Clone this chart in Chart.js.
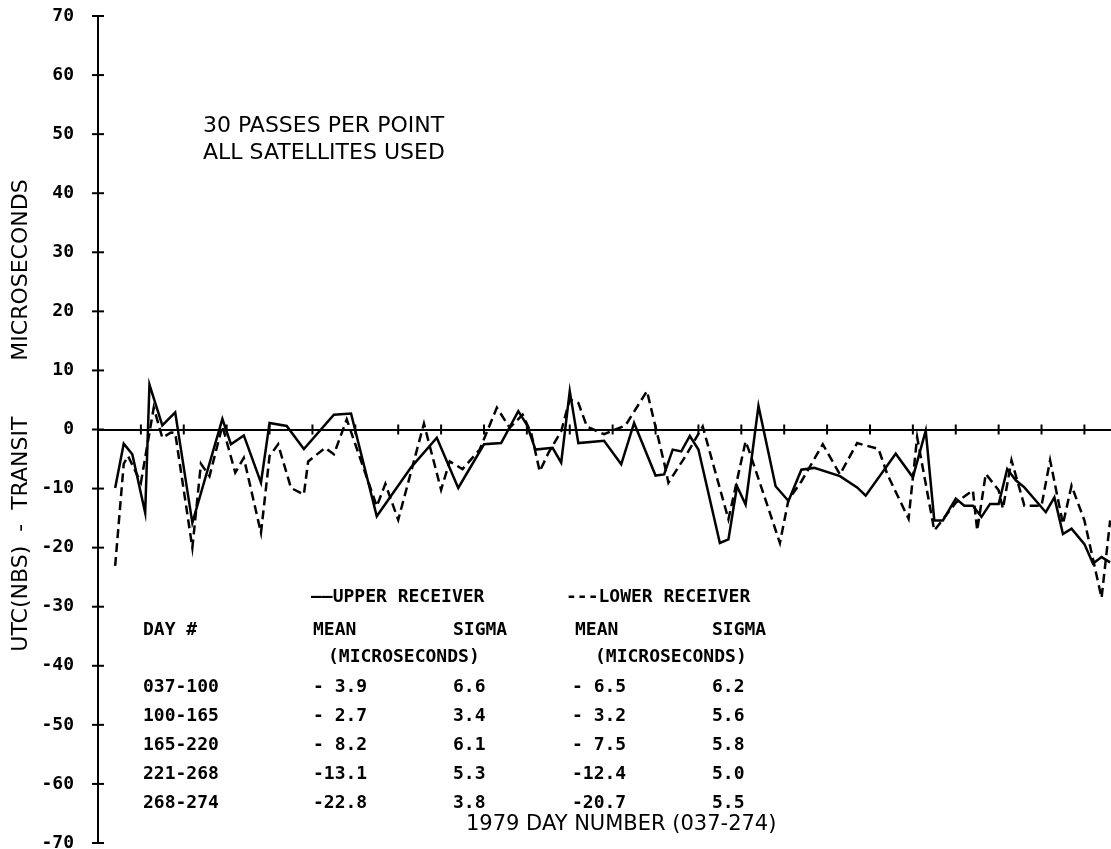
<!DOCTYPE html>
<html>
<head>
<meta charset="utf-8">
<script src="https://cdn.jsdelivr.net/npm/chart.js@4.4.1/dist/chart.umd.min.js"></script>
<style>
  html, body { margin: 0; padding: 0; background: #fff; }
  canvas { display: block; }
</style>
</head>
<body>
<canvas id="c" width="1111" height="849"></canvas>
<script>
// Day numbers (1979) and UTC(NBS) - TRANSIT offsets in microseconds
const upperDays = [41,43,45,48,49,52,55,59,66,68,71,75,77,81,85,92,96,102,110,116,121,127,131,135,137,139,143,145,147,149,155,159,162,167,169,171,173,175,177,182,184,186,188,191,195,198,201,204,210,214,216,223,227,230,232,234,237,239,241,243,245,247,249,251,253,258,260,262,264,267,269,271,273];
const upperValues = [-9.9,-2.4,-4.2,-14.1,7.6,0.7,2.9,-15.8,1.8,-2.5,-1.0,-9.0,1.1,0.6,-3.3,2.5,2.7,-14.7,-6.4,-1.4,-9.9,-2.5,-2.3,3.1,0.8,-3.4,-3.1,-5.6,6.5,-2.3,-1.9,-5.9,1.1,-7.8,-7.6,-3.4,-3.7,-1.1,-3.4,-19.2,-18.6,-9.6,-12.7,4.0,-9.6,-12.1,-6.8,-6.5,-7.9,-9.8,-11.2,-4.1,-8.1,-0.2,-15.4,-15.4,-11.7,-12.9,-12.9,-14.8,-12.6,-12.6,-6.7,-8.6,-9.8,-14.0,-11.5,-17.7,-16.8,-19.4,-22.7,-21.6,-22.5];

const lowerDays = [41,43,44,47,50,52,54,55,59,61,63,66,69,71,75,77,79,82,85,86,90,92,95,97,102,104,107,113,117,119,122,126,130,133,136,138,140,142,145,147,149,151,155,160,165,169,170,174,178,184,188,189,196,198,201,206,210,214,219,221,226,228,232,237,241,242,244,247,248,250,253,257,259,262,264,267,271,273];
const lowerValues = [-23.1,-5.8,-4.5,-9.0,3.7,-1.4,-0.5,-0.6,-20.0,-5.8,-7.9,0.6,-7.3,-4.8,-17.5,-4.5,-2.5,-9.9,-11.0,-5.4,-3.1,-4.2,1.7,-2.5,-13.0,-9.2,-15.3,1.0,-10.2,-5.4,-6.7,-3.4,3.7,0.3,2.5,-0.6,-7.1,-4.0,-0.3,5.1,4.5,0.5,-0.8,0.7,6.5,-5.6,-9.0,-4.5,0.5,-15.2,-2.0,-4.0,-19.2,-11.9,-8.8,-2.5,-7.6,-2.3,-3.3,-7.5,-15.1,-1.3,-17.1,-12.4,-10.3,-17.1,-7.5,-10.3,-13.4,-5.2,-12.9,-12.9,-5.2,-16.0,-9.5,-15.4,-28.5,-15.4];

// Axis ranges and tick layout
const dayStart = 37;
const dayEnd = 273.2;
const dayTickStep = 10;
const dayTickLast = 267;
const yMin = -70, yMax = 70, yStep = 10;

// Summary table
const tableRanges = ['037-100', '100-165', '165-220', '221-268', '268-274'];
const upperMean  = ['- 3.9', '- 2.7', '- 8.2', '-13.1', '-22.8'];
const upperSigma = ['6.6', '3.4', '6.1', '5.3', '3.8'];
const lowerMean  = ['- 6.5', '- 3.2', '- 7.5', '-12.4', '-20.7'];
const lowerSigma = ['6.2', '5.6', '5.8', '5.0', '5.5'];

const notes = ['30 PASSES PER POINT', 'ALL SATELLITES USED'];
const yTitle = '    UTC(NBS)  -  TRANSIT        MICROSECONDS';
const xTitle = '1979 DAY NUMBER (037-274)';

const toPoints = (xs, ys) => xs.map((d, i) => ({ x: d, y: ys[i] }));

const MONO = '"DejaVu Sans Mono", "Liberation Mono", monospace';
const SANS = '"DejaVu Sans", "Liberation Sans", sans-serif';

// "+" shaped tick marks on both axes
const crossTicks = {
  id: 'crossTicks',
  afterDraw(chart) {
    const { ctx, chartArea, scales: { x, y } } = chart;
    const y0 = y.getPixelForValue(0);
    ctx.save();
    ctx.strokeStyle = '#000';
    ctx.lineWidth = 2;
    y.ticks.forEach(t => {
      const py = y.getPixelForValue(t.value);
      ctx.beginPath();
      ctx.moveTo(chartArea.left - 6, py);
      ctx.lineTo(chartArea.left + 6, py);
      ctx.stroke();
    });
    x.ticks.forEach(t => {
      if (t.value === dayStart) return;
      const px = x.getPixelForValue(t.value);
      ctx.beginPath();
      ctx.moveTo(px, y0 - 5);
      ctx.lineTo(px, y0 + 5);
      ctx.stroke();
    });
    ctx.restore();
  }
};

// Notes, summary table and bottom axis caption
const textBlock = {
  id: 'textBlock',
  afterDraw(chart) {
    const { ctx } = chart;
    ctx.save();
    ctx.fillStyle = '#000';
    ctx.textBaseline = 'middle';
    ctx.textAlign = 'left';

    ctx.font = '22px ' + SANS;
    ctx.fillText(notes[0], 203, 126);
    ctx.fillText(notes[1], 203, 153);

    ctx.font = 'bold 18px ' + MONO;
    const rowY = [597, 630, 657, 687, 716, 745, 774, 803];
    ctx.fillText('\u2014\u2014UPPER RECEIVER', 311, rowY[0]);
    ctx.fillText('---LOWER RECEIVER', 566, rowY[0]);
    ctx.fillText('DAY #', 143, rowY[1]);
    ctx.fillText('MEAN', 313, rowY[1]);
    ctx.fillText('SIGMA', 453, rowY[1]);
    ctx.fillText('MEAN', 575, rowY[1]);
    ctx.fillText('SIGMA', 712, rowY[1]);
    ctx.fillText('(MICROSECONDS)', 328, rowY[2]);
    ctx.fillText('(MICROSECONDS)', 595, rowY[2]);
    tableRanges.forEach((r, i) => {
      const yy = rowY[3 + i];
      ctx.fillText(r, 143, yy);
      ctx.fillText(upperMean[i], 313, yy);
      ctx.fillText(upperSigma[i], 453, yy);
      ctx.fillText(lowerMean[i], 572, yy);
      ctx.fillText(lowerSigma[i], 712, yy);
    });

    ctx.font = '21px ' + SANS;
    ctx.fillText(xTitle, 466, 825);
    ctx.restore();
  }
};

new Chart(document.getElementById('c'), {
  type: 'line',
  data: {
    datasets: [
      {
        label: 'LOWER RECEIVER',
        data: toPoints(lowerDays, lowerValues),
        borderColor: '#000',
        borderWidth: 2.5,
        borderDash: [9, 5],
        pointRadius: 0,
        tension: 0,
        fill: false
      },
      {
        label: 'UPPER RECEIVER',
        data: toPoints(upperDays, upperValues),
        borderColor: '#000',
        borderWidth: 2.5,
        pointRadius: 0,
        tension: 0,
        fill: false
      }
    ]
  },
  options: {
    responsive: false,
    animation: false,
    devicePixelRatio: 1,
    layout: { padding: { top: 16, bottom: 6, left: 0, right: 0 } },
    plugins: { legend: { display: false }, tooltip: { enabled: false } },
    scales: {
      x: {
        type: 'linear',
        position: { y: 0 },
        min: dayStart,
        max: dayEnd,
        afterBuildTicks(scale) {
          const t = [];
          for (let d = dayStart; d <= dayTickLast; d += dayTickStep) t.push({ value: d });
          scale.ticks = t;
        },
        ticks: { display: false },
        grid: { drawOnChartArea: false, drawTicks: false },
        border: { display: true, color: '#000', width: 2 }
      },
      y: {
        type: 'linear',
        position: 'left',
        min: yMin,
        max: yMax,
        afterFit(scale) {
          scale.width = 98;
          scale.paddingTop = 0;
          scale.paddingBottom = 0;
        },
        ticks: {
          stepSize: yStep,
          padding: 24,
          color: '#000',
          font: { family: MONO, size: 18, weight: 'bold' }
        },
        grid: { drawOnChartArea: false, drawTicks: false },
        border: { display: true, color: '#000', width: 2 },
        title: {
          display: true,
          text: yTitle,
          color: '#000',
          font: { family: SANS, size: 22 },
          padding: { top: 8, bottom: 0 }
        }
      }
    }
  },
  plugins: [crossTicks, textBlock]
});
</script>
</body>
</html>
